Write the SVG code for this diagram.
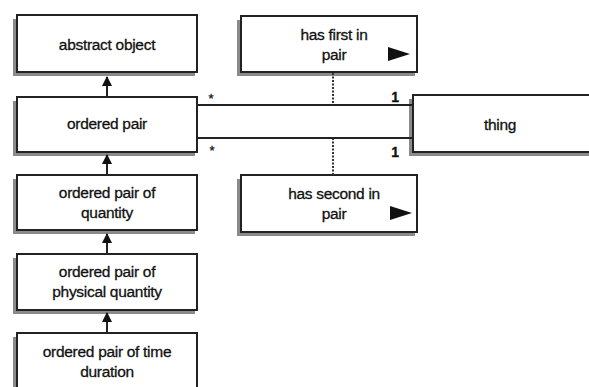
<svg xmlns="http://www.w3.org/2000/svg" width="589" height="387" viewBox="0 0 589 387">
<defs>
<style>
.box{fill:#fff;stroke:#222;stroke-width:2}
.sh{fill:#8a8a8a}
.t{font-family:"Liberation Sans",Arial,sans-serif;font-size:15.5px;fill:#111;text-anchor:middle;letter-spacing:-0.3px;stroke:#111;stroke-width:0.3}
.c{stroke:#222;stroke-width:2;fill:none}
.d{stroke:#333;stroke-width:2;stroke-dasharray:2 1.5;fill:none}
</style>
<marker id="ah" viewBox="0 0 10 10" refX="9" refY="5" markerWidth="5" markerHeight="5" orient="auto">
<path d="M0,0 L10,5 L0,10 z" fill="#111"/>
</marker>
</defs>
<rect width="589" height="387" fill="#fff"/>
<g id="abstract-object">
<rect class="sh" x="13" y="19" width="182" height="57"/>
<rect class="box" x="17" y="15" width="180" height="57"/>
<text class="t" x="107" y="50">abstract object</text>
</g>
<g id="ordered-pair">
<rect class="sh" x="13" y="101" width="182" height="55"/>
<rect class="box" x="17" y="97" width="180" height="55"/>
<text class="t" x="107" y="129">ordered pair</text>
</g>
<g id="ordered-pair-of-quantity">
<rect class="sh" x="13" y="179" width="182" height="55"/>
<rect class="box" x="17" y="175" width="180" height="55"/>
<text class="t" x="107" y="198">ordered pair of</text>
<text class="t" x="107" y="218">quantity</text>
</g>
<g id="ordered-pair-of-physical-quantity">
<rect class="sh" x="13" y="258" width="182" height="56"/>
<rect class="box" x="17" y="254" width="180" height="56"/>
<text class="t" x="107" y="277">ordered pair of</text>
<text class="t" x="107" y="297">physical quantity</text>
</g>
<g id="ordered-pair-of-time-duration">
<rect class="sh" x="13" y="337" width="182" height="56"/>
<rect class="box" x="17" y="333" width="180" height="56"/>
<text class="t" x="107" y="357">ordered pair of time</text>
<text class="t" x="107" y="377">duration</text>
</g>
<g id="has-first-in-pair">
<rect class="sh" x="237" y="20" width="178" height="56"/>
<rect class="box" x="241" y="16" width="176" height="56"/>
<text class="t" x="334" y="40">has first in</text>
<text class="t" x="334" y="60">pair</text>
<path d="M388,47 L410,54 L388,61 z" fill="#111"/>
</g>
<g id="has-second-in-pair">
<rect class="sh" x="237" y="179" width="178" height="57"/>
<rect class="box" x="241" y="175" width="176" height="57"/>
<text class="t" x="334" y="199">has second in</text>
<text class="t" x="334" y="219">pair</text>
<path d="M390,206 L412,213 L390,220 z" fill="#111"/>
</g>
<g id="thing">
<rect class="sh" x="409" y="99" width="186" height="57"/>
<rect class="box" x="413" y="95" width="185" height="57"/>
<text class="t" x="500" y="130">thing</text>
</g>
<g id="connectors">
<line class="c" x1="107" y1="97" x2="107" y2="77" marker-end="url(#ah)"/>
<line class="c" x1="107" y1="175" x2="107" y2="155" marker-end="url(#ah)"/>
<line class="c" x1="107" y1="254" x2="107" y2="234" marker-end="url(#ah)"/>
<line class="c" x1="107" y1="333" x2="107" y2="313" marker-end="url(#ah)"/>
<line class="c" x1="197" y1="105" x2="413" y2="105"/>
<line class="c" x1="197" y1="138" x2="413" y2="138"/>
<line class="d" x1="333" y1="73" x2="333" y2="105"/>
<line class="d" x1="333" y1="138" x2="333" y2="175"/>
<text class="t" x="211" y="103" style="font-size:13px">*</text>
<text class="t" x="212" y="155" style="font-size:13px">*</text>
<text class="t" x="395" y="102" style="font-size:14px;font-weight:bold">1</text>
<text class="t" x="395" y="157" style="font-size:14px;font-weight:bold">1</text>
</g>
</svg>
